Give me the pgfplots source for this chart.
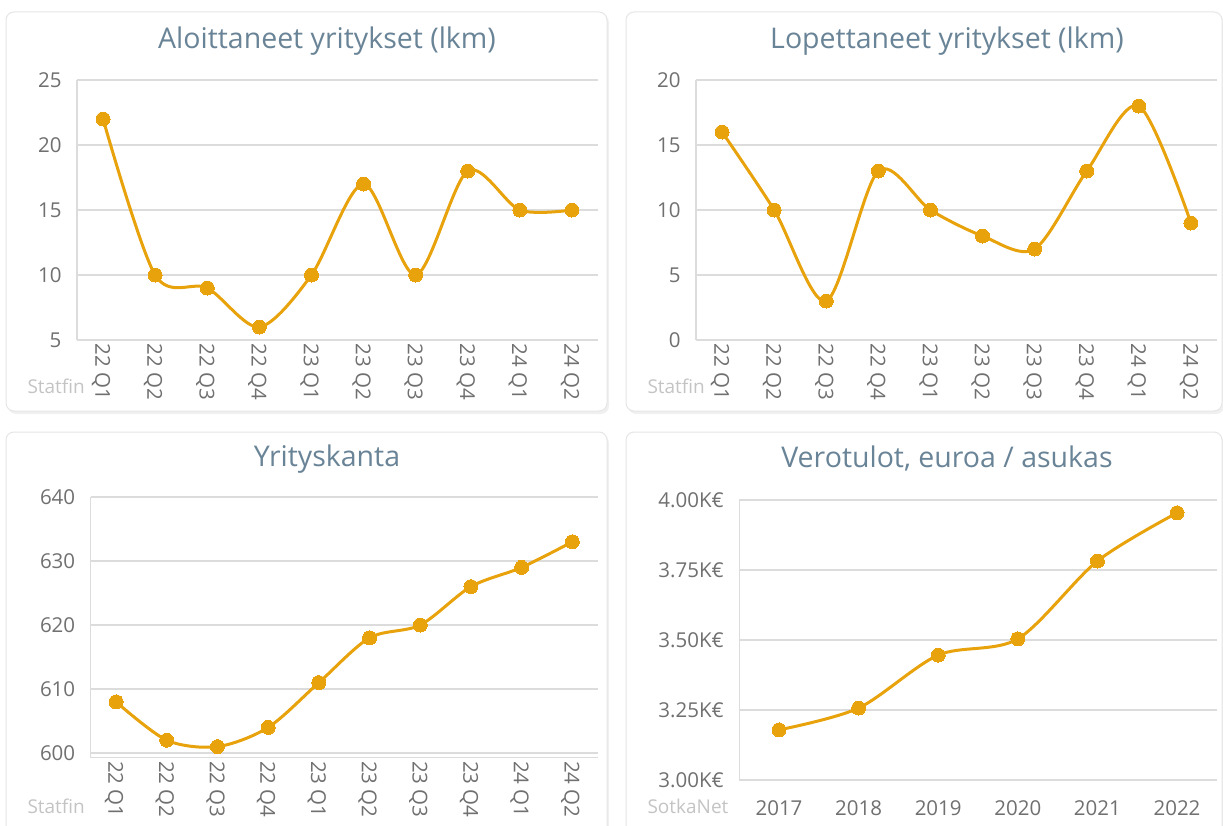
\documentclass[border=0pt]{standalone}
\usepackage{fontspec}
\setmainfont{Open Sans}
\usepackage{pgfplots}
\pgfplotsset{compat=1.18}
\definecolor{lineC}{HTML}{E8A20C}
\definecolor{titleC}{HTML}{6A8497}
\definecolor{tickC}{HTML}{707070}
\definecolor{gridC}{HTML}{DCDCDC}
\definecolor{srcC}{HTML}{C4C4C4}
\definecolor{cardC}{HTML}{E6E6E6}
\pgfplotsset{
 card/.style={
  scale only axis, anchor=south west,
  axis x line=bottom, axis y line=left,
  axis line style={gridC, line width=1.3pt},
  x axis line style={-}, y axis line style={-},
  ymajorgrids, grid style={gridC, line width=1.3pt},
  major tick length=0pt, tick style={draw=none},
  ticklabel style={font=\fontsize{20.5}{24}\selectfont, text=tickC},
  yticklabel style={xshift=-12pt},
  /pgf/number format/assume math mode=true,
  xtick=data, clip=false,
 },
 quarter/.style={xmin=-0.5, xmax=9.5,
  xticklabels={22 Q1,22 Q2,22 Q3,22 Q4,23 Q1,23 Q2,23 Q3,23 Q4,24 Q1,24 Q2},
  xticklabel style={rotate=-90, anchor=west, xshift=0pt, yshift=-2pt}},
 ser/.style={lineC, line width=3pt, smooth, tension=0.5, mark=*, mark size=7pt, mark options={fill=lineC, draw=lineC, line width=0pt}},
}
\newcommand{\cardbox}[4]{%
 \fill[black, opacity=0.06, rounded corners=8pt] (#1pt+2pt,-#2pt-3pt) rectangle (#3pt+2pt,-#4pt-3pt);
 \draw[cardC, fill=white, line width=1pt, rounded corners=8pt] (#1pt,-#2pt) rectangle (#3pt,-#4pt);
}
\begin{document}
\begin{tikzpicture}
\clip (0,0) rectangle (1223pt,-826pt);
\fill[white] (0,0) rectangle (1223pt,-826pt);
\cardbox{6}{12}{607}{411}
\cardbox{626}{12}{1222}{411}
\cardbox{6}{432}{607}{840}
\cardbox{626}{432}{1222}{840}

\node[text=titleC, font=\fontsize{28.5}{32}\selectfont] at (327pt,-41pt) {Aloittaneet yritykset (lkm)};
\node[text=titleC, font=\fontsize{28.5}{32}\selectfont] at (947pt,-41pt) {Lopettaneet yritykset (lkm)};
\node[text=titleC, font=\fontsize{28.5}{32}\selectfont] at (327pt,-459pt) {Yrityskanta};
\node[text=titleC, font=\fontsize{28.5}{32}\selectfont] at (947pt,-459pt) {Verotulot, euroa / asukas};

\node[text=srcC, font=\fontsize{19}{22}\selectfont, anchor=base west] at (24pt,-393pt) {Statfin};
\node[text=srcC, font=\fontsize{19}{22}\selectfont, anchor=base west] at (644pt,-393pt) {Statfin};
\node[text=srcC, font=\fontsize{19}{22}\selectfont, anchor=base west] at (24pt,-813pt) {Statfin};
\node[text=srcC, font=\fontsize{19}{22}\selectfont, anchor=base west] at (644pt,-813pt) {SotkaNet};

\begin{axis}[card, quarter, at={(77pt,-340pt)}, width=521pt, height=260pt,
  ymin=5, ymax=25, ytick={5,10,15,20,25}]
\addplot[ser] coordinates {(0,22)(1,10)(2,9)(3,6)(4,10)(5,17)(6,10)(7,18)(8,15)(9,15)};
\end{axis}

\begin{axis}[card, quarter, at={(696pt,-340pt)}, width=521pt, height=260pt,
  ymin=0, ymax=20, ytick={0,5,10,15,20}]
\addplot[ser] coordinates {(0,16)(1,10)(2,3)(3,13)(4,10)(5,8)(6,7)(7,13)(8,18)(9,9)};
\end{axis}

\begin{axis}[card, quarter, at={(90.7pt,-757.5pt)}, width=507pt, height=260.5pt,
  ymin=599.3, ymax=640, ytick={600,610,620,630,640}]
\addplot[ser] coordinates {(0,608)(1,602)(2,601)(3,604)(4,611)(5,618)(6,620)(7,626)(8,629)(9,633)};
\end{axis}

\begin{axis}[card, at={(739.2pt,-780pt)}, width=477.6pt, height=280pt,
  xmin=-0.5, xmax=5.5, xticklabels={2017,2018,2019,2020,2021,2022},
  xticklabel style={yshift=-17pt},
  ymin=3, ymax=4, ytick={3,3.25,3.5,3.75,4},
  yticklabels={3.00K€,3.25K€,3.50K€,3.75K€,4.00K€}]
\addplot[ser] coordinates {(0,3.179)(1,3.257)(2,3.446)(3,3.504)(4,3.782)(5,3.954)};
\end{axis}
\end{tikzpicture}
\end{document}
